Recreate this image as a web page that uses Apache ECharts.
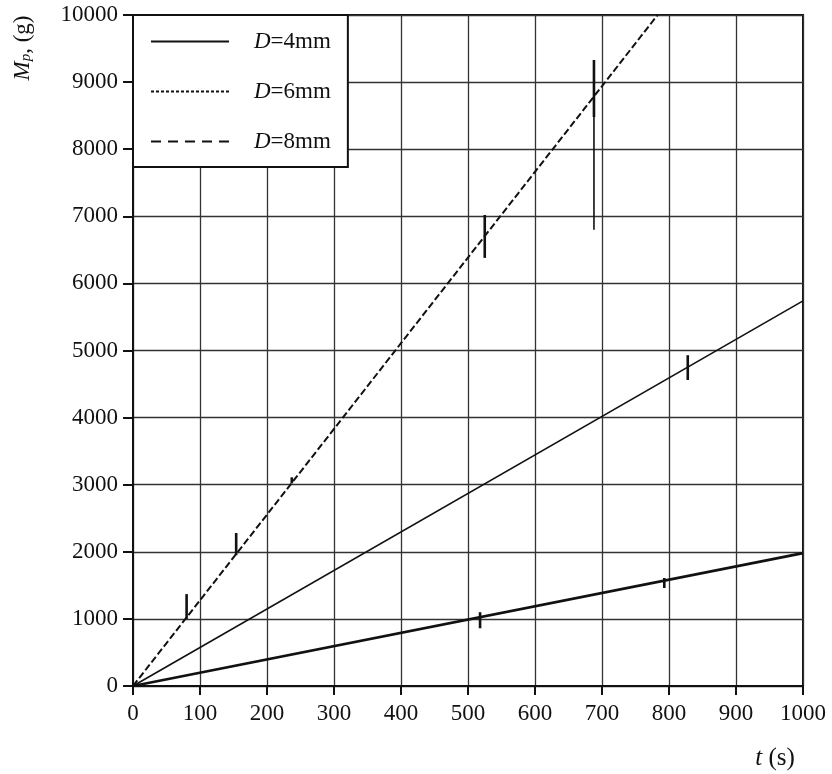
<!DOCTYPE html>
<html>
<head>
<meta charset="utf-8">
<script src="https://cdn.jsdelivr.net/npm/echarts@6/dist/echarts.min.js"></script>
<style>
  html, body { margin: 0; padding: 0; background: #fff; }
  #chart { width: 832px; height: 774px; }
</style>
</head>
<body>
<div id="chart"></div>
<script>
// Fitted mass-versus-time lines, [t (s), Mp (g)]
const lineD4 = [[0, 0], [1000, 1980]];
const lineD6 = [[0, 0], [1000, 5740]];
const lineD8 = [[0, 0], [783, 10000]];

// Measured scatter shown as vertical bars: [t, low, high]
const barsMain = [
  [80, 1000, 1370],
  [154, 1950, 2280],
  [237, 3020, 3110],
  [525, 6380, 7020],
  [688, 8480, 9330],
  [828, 4560, 4930],
  [518, 860, 1100],
  [793, 1460, 1610]
];
const barsTail = [
  [688, 6800, 8480]
];

const seriesNames = ['D=4mm', 'D=6mm', 'D=8mm'];
const xTicks = [0, 100, 200, 300, 400, 500, 600, 700, 800, 900, 1000];
const yTicks = [0, 1000, 2000, 3000, 4000, 5000, 6000, 7000, 8000, 9000, 10000];

const FONT = '"Liberation Serif", "DejaVu Serif", serif';
const INK = '#111';

function barRenderer(width) {
  return function (params, api) {
    const p1 = api.coord([api.value(0), api.value(1)]);
    const p2 = api.coord([api.value(0), api.value(2)]);
    return {
      type: 'line',
      shape: { x1: p1[0], y1: p1[1], x2: p2[0], y2: p2[1] },
      style: { stroke: INK, lineWidth: width }
    };
  };
}

const plain = function (v) { return String(v); };

const chart = echarts.init(document.getElementById('chart'), null, { renderer: 'canvas' });

chart.setOption({
  animation: false,
  backgroundColor: '#fff',
  color: [INK, INK, INK],
  grid: {
    left: 133, right: 29, top: 15, bottom: 88,
    show: true, borderColor: INK, borderWidth: 2, backgroundColor: 'transparent'
  },
  xAxis: {
    type: 'value',
    min: xTicks[0], max: xTicks[xTicks.length - 1], interval: 100,
    axisLine: { show: true, lineStyle: { color: INK, width: 2 } },
    axisTick: { show: true, length: 9, lineStyle: { color: INK, width: 2 } },
    axisLabel: { color: INK, fontFamily: FONT, fontSize: 23, margin: 16, formatter: plain },
    splitLine: { show: true, lineStyle: { color: '#333', width: 1.3 } }
  },
  yAxis: {
    type: 'value',
    min: yTicks[0], max: yTicks[yTicks.length - 1], interval: 1000,
    axisLine: { show: true, lineStyle: { color: INK, width: 2 } },
    axisTick: { show: true, length: 10, lineStyle: { color: INK, width: 2 } },
    axisLabel: { color: INK, fontFamily: FONT, fontSize: 23, margin: 15, formatter: plain },
    splitLine: { show: true, lineStyle: { color: '#333', width: 1.3 } }
  },
  legend: {
    orient: 'vertical',
    left: 133, top: 15,
    padding: [15, 17, 14, 17],
    itemGap: 27,
    itemWidth: 78, itemHeight: 14,
    backgroundColor: '#fff',
    borderColor: INK, borderWidth: 2,
    selectedMode: false,
    data: [
      { name: seriesNames[0], itemStyle: { opacity: 0 }, lineStyle: { type: 'solid', width: 2, color: INK } },
      { name: seriesNames[1], itemStyle: { opacity: 0 }, lineStyle: { type: [3, 2], width: 2, color: INK } },
      { name: seriesNames[2], itemStyle: { opacity: 0 }, lineStyle: { type: [10, 7], width: 2, color: INK } }
    ],
    formatter: function (name) {
      return '{g|}{i|D}{r|' + name.slice(1) + '}';
    },
    textStyle: {
      color: INK,
      rich: {
        g: { width: 20 },
        i: { fontFamily: FONT, fontStyle: 'italic', fontSize: 23, color: INK },
        r: { fontFamily: FONT, fontSize: 23, color: INK }
      }
    }
  },
  graphic: [
    {
      type: 'text',
      x: 21, y: 48,
      rotation: Math.PI / 2,
      style: {
        text: '{m|M}{p|p}{r|, (g)}',
        align: 'center', verticalAlign: 'middle',
        rich: {
          m: { fontFamily: FONT, fontStyle: 'italic', fontSize: 23, fill: INK, verticalAlign: 'bottom', lineHeight: 26 },
          p: { fontFamily: FONT, fontStyle: 'italic', fontSize: 15, fill: INK, verticalAlign: 'bottom', lineHeight: 16 },
          r: { fontFamily: FONT, fontSize: 23, fill: INK, verticalAlign: 'bottom', lineHeight: 26 }
        }
      }
    },
    {
      type: 'text',
      x: 775, y: 758,
      style: {
        text: '{i|t}{r| (s)}',
        align: 'center', verticalAlign: 'middle',
        rich: {
          i: { fontFamily: FONT, fontStyle: 'italic', fontSize: 25, fill: INK },
          r: { fontFamily: FONT, fontSize: 25, fill: INK }
        }
      }
    }
  ],
  series: [
    {
      name: seriesNames[0], type: 'line', data: lineD4,
      symbol: 'none', itemStyle: { color: INK },
      lineStyle: { color: INK, width: 2.8, type: 'solid' }, z: 3
    },
    {
      name: seriesNames[1], type: 'line', data: lineD6,
      symbol: 'none', itemStyle: { color: INK },
      lineStyle: { color: INK, width: 1.6, type: 'solid' }, z: 3
    },
    {
      name: seriesNames[2], type: 'line', data: lineD8,
      symbol: 'none', itemStyle: { color: INK },
      lineStyle: { color: INK, width: 2, type: [7, 3] }, z: 3
    },
    {
      name: 'bars', type: 'custom', data: barsMain,
      renderItem: barRenderer(2.6), encode: { x: 0, y: [1, 2] }, z: 4
    },
    {
      name: 'barsTail', type: 'custom', data: barsTail,
      renderItem: barRenderer(1.6), encode: { x: 0, y: [1, 2] }, z: 4
    }
  ]
});
</script>
</body>
</html>
